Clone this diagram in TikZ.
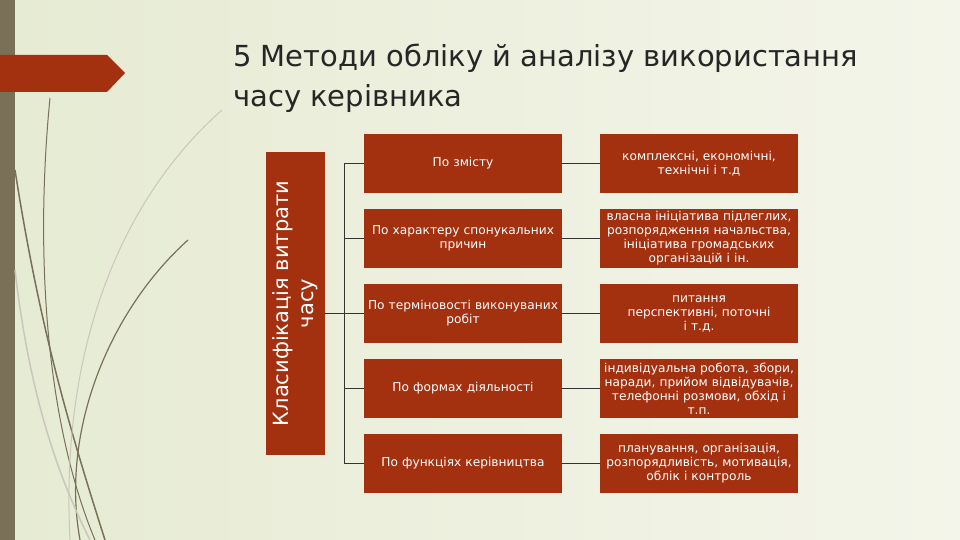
\documentclass[tikz,border=0pt]{standalone}
\usepackage{fontspec}
\setmainfont{DejaVu Sans}
\begin{document}
\begin{tikzpicture}[x=1pt,y=-1pt,
  box/.style={draw=none, minimum width=196pt, minimum height=59pt, text=white, font=\fontsize{12.2}{14}\selectfont, align=center, inner sep=1pt, text width=196pt},
  conn/.style={draw=black!80, line width=0.6pt}]
\definecolor{rd}{HTML}{A3300F}
\definecolor{ol}{HTML}{7A7058}
\definecolor{bg1}{HTML}{E6EBD3}
\definecolor{bg2}{HTML}{F4F5EA}
\tikzset{box/.append style={fill=rd}}
\shade[left color=bg1, right color=bg2] (0,0) rectangle (960,540);
\useasboundingbox (0,0) rectangle (960,540);
\fill[ol] (0,0) rectangle (15,540);
\fill[rd] (0,55) -- (107,55) -- (125,73) -- (107,92) -- (0,92) -- cycle;
% decorative curves
\draw[ol, line width=1.5pt] (15,170) .. controls (40,330) and (70,430) .. (105,540);
\draw[ol, line width=1pt] (50,98) .. controls (35,250) and (45,420) .. (95,540);
\draw[ol, line width=1.2pt] (188,240) .. controls (110,310) and (60,430) .. (80,540);
\draw[ol!40, line width=1pt] (222,110) .. controls (120,200) and (60,350) .. (70,540);
\draw[ol!40, line width=1.5pt] (15,270) .. controls (30,400) and (60,480) .. (90,540);
\node[anchor=north west, align=left, font=\fontsize{29}{40}\selectfont, text=black!85, inner sep=0] (title) at (233,44) {5 Методи обліку й аналізу використання\\часу керівника};
\node[fill=rd, minimum width=59pt, minimum height=303pt, inner sep=0] (root) at (295.5,303.5) {};
\node[rotate=90, text=white, align=center, font=\fontsize{21}{25}\selectfont] (rootlbl) at (root.center) {Класифікація витрати\\часу};
\coordinate (tr) at (344,313);
\draw[conn] (root.east |- tr) -- (tr);
\foreach \i/\a/\b in {0/{По змісту}/{комплексні, економічні,\\технічні і т.д},
 1/{По характеру спонукальних\\причин}/{власна ініціатива підлеглих,\\розпорядження начальства,\\ініціатива громадських\\організацій і ін.},
 2/{По терміновості виконуваних\\робіт}/{питання перспективні, поточні\\і т.д.},
 3/{По формах діяльності}/{індивідуальна робота, збори,\\наради, прийом відвідувачів,\\телефонні розмови, обхід і\\т.п.},
 4/{По функціях керівництва}/{планування, організація,\\розпорядливість, мотивація,\\облік і контроль}} {
 \node[box] (l\i) at (463,163.5+75*\i) {\a};
 \node[box] (r\i) at (699,163.5+75*\i) {\b};
 \draw[conn] (l\i.east) -- (r\i.west);
 \draw[conn] (tr |- l\i.west) -- (l\i.west);
}
\draw[conn] (tr |- l0.west) -- (tr |- l4.west);
\end{tikzpicture}
\end{document}
